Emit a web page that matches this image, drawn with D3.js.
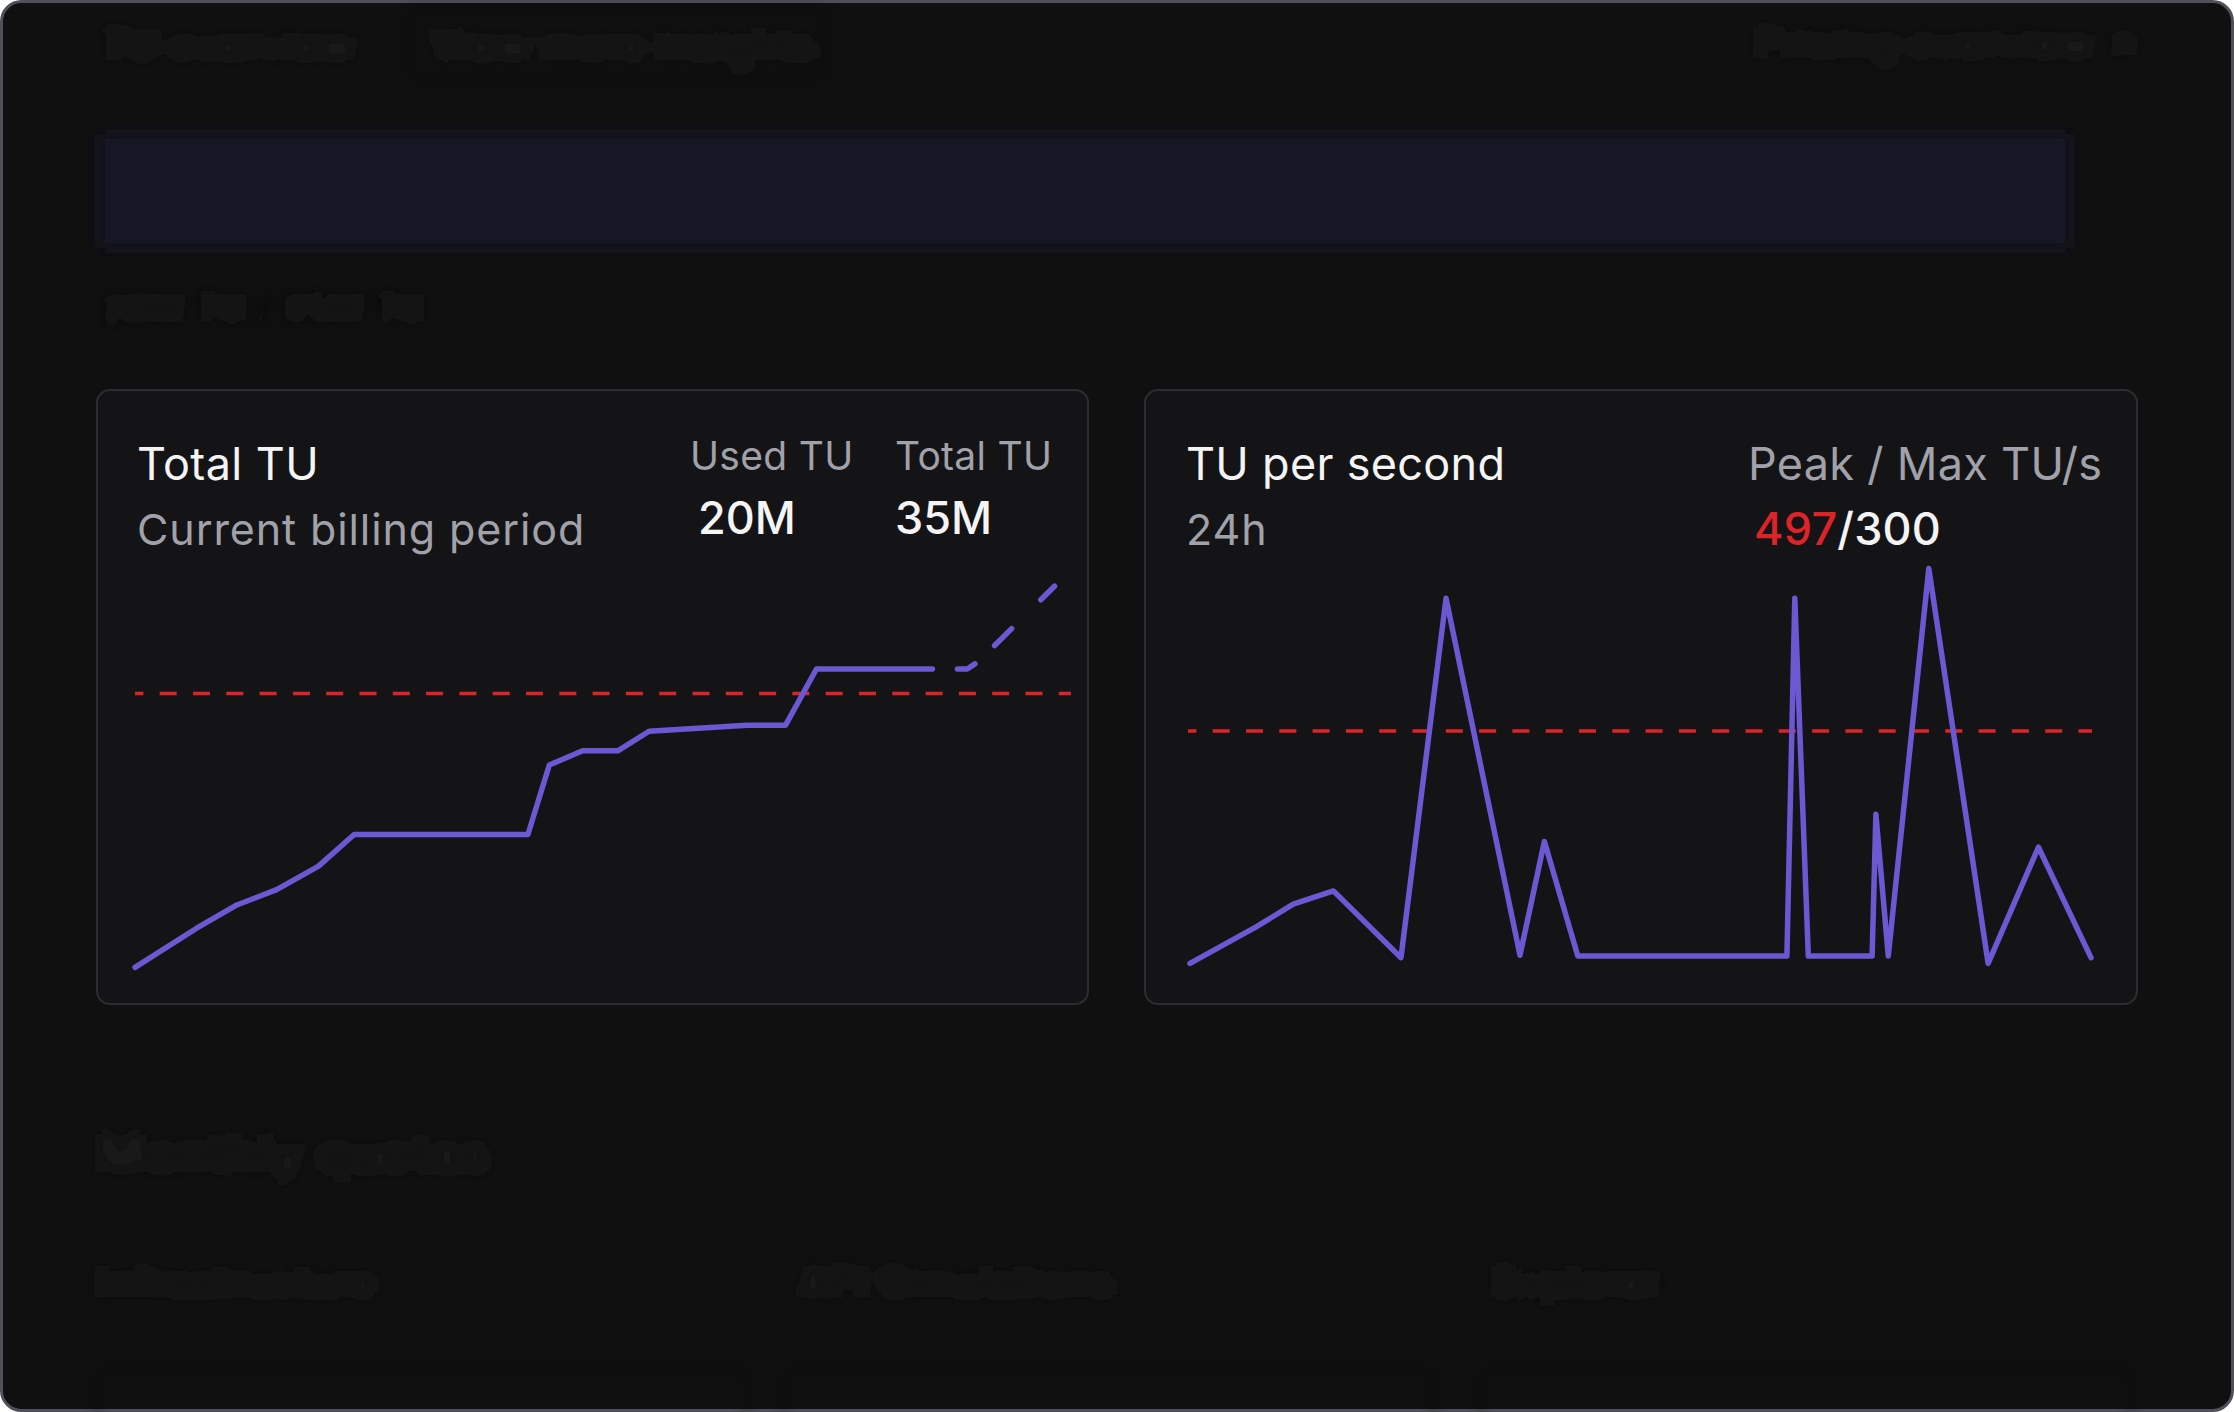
<!DOCTYPE html>
<html>
<head>
<meta charset="utf-8">
<script src="https://cdn.jsdelivr.net/npm/d3@7"></script>
<style>
  html, body { margin: 0; padding: 0; background: #fff; }
  svg { display: block; font-family: Inter, "Noto Sans", sans-serif; }
</style>
</head>
<body>
<svg id="chart" width="2234" height="1412"></svg>
<script>
// Total TU, cumulative usage in the billing period (day -> M TU)
const usageDays = [0, 2, 3.33, 4.63, 6, 7.16, 12.84, 13.54, 14.63, 15.79, 16.8, 20, 21.26, 22.27, 26.06];
const usageTU = [3.2, 7.0, 9.3, 10.8, 13.1, 16.2, 16.2, 23.0, 24.4, 24.4, 26.3, 26.9, 26.9, 32.4, 32.4];
const forecastDays = [26.06, 27.2, 27.55, 30.05];
const forecastTU = [32.4, 32.4, 33.1, 40.5];
const usageLimit = 30;

// TU per second over the last 24h
const hours = [0, 1.75, 2.75, 3.82, 5.62, 6.82, 8.79, 9.44, 10.33, 15.9, 16.11, 16.47, 18.17, 18.27, 18.6, 19.68, 21.26, 22.6, 24];
const tuPerSecond = [18, 62, 90, 106, 25, 461, 28, 166, 27, 27, 461, 27, 27, 199, 27, 497, 18, 159, 25];
const maxTUs = 300;
const peakTUs = d3.max(tuPerSecond);

const purple = "#6b58d3";
const red = "#dc2328";

const svg = d3.select("#chart");

const defs = svg.append("defs");
defs.append("filter")
  .attr("id", "blur")
  .attr("x", "-10%").attr("y", "-50%")
  .attr("width", "120%").attr("height", "200%")
  .append("feGaussianBlur")
  .attr("stdDeviation", 7);

// outer frame
svg.append("rect")
  .attr("x", 1.5).attr("y", 1.5)
  .attr("width", 2231).attr("height", 1409)
  .attr("rx", 20)
  .attr("fill", "#101010")
  .attr("stroke", "#50505a")
  .attr("stroke-width", 3);

// blurred page content behind the cards
const bg = svg.append("g").attr("filter", "url(#blur)");
bg.append("text").attr("x", 100).attr("y", 60).attr("font-size", 42).attr("font-weight", 600)
  .attr("fill", "#1c1c1c").text("TU overview");
bg.append("rect").attr("x", 408).attr("y", 8).attr("width", 418).attr("height", 70).attr("rx", 8)
  .attr("fill", "none").attr("stroke", "#171717").attr("stroke-width", 2);
bg.append("text").attr("x", 430).attr("y", 60).attr("font-size", 42).attr("font-weight", 600)
  .attr("fill", "#1b1b1b").text("View more insights");
bg.append("text").attr("x", 1755).attr("y", 58).attr("font-size", 42).attr("font-weight", 600)
  .attr("fill", "#1a1a1a").text("Pricing overview ↗");
bg.append("rect").attr("x", 100).attr("y", 134).attr("width", 1970).attr("height", 114)
  .attr("fill", "#181726");
bg.append("text").attr("x", 100).attr("y", 322).attr("font-size", 38).attr("font-weight", 600)
  .attr("fill", "#181818").text("20M TU / 35M TU");
bg.append("text").attr("x", 97).attr("y", 1172).attr("font-size", 52).attr("font-weight", 600)
  .attr("fill", "#1b1b1b").text("Monthly quotas");
[["Infrastructure", 97], ["API Simulations", 798], ["Explorer", 1493]].forEach(([t, x]) => {
  bg.append("text").attr("x", x).attr("y", 1297).attr("font-size", 42).attr("font-weight", 600)
    .attr("fill", "#1b1b1b").text(t);
});
[97, 784, 1481].forEach((x) => {
  bg.append("rect").attr("x", x).attr("y", 1368).attr("width", 650).attr("height", 120).attr("rx", 12)
    .attr("fill", "none").attr("stroke", "#161616").attr("stroke-width", 2);
});

// cards
const cards = [
  { x: 97, y: 390, w: 991, h: 614 },
  { x: 1145, y: 390, w: 992, h: 614 },
];
svg.selectAll("rect.card")
  .data(cards)
  .enter()
  .append("rect")
  .attr("class", "card")
  .attr("x", (d) => d.x)
  .attr("y", (d) => d.y)
  .attr("width", (d) => d.w)
  .attr("height", (d) => d.h)
  .attr("rx", 13)
  .attr("fill", "#141417")
  .attr("stroke", "#2d2d31")
  .attr("stroke-width", 2);

function label(x, y, text, size, color, weight, spacing) {
  return svg.append("text")
    .attr("x", x).attr("y", y)
    .attr("font-size", size)
    .attr("font-weight", weight || 400)
    .attr("letter-spacing", spacing || 0)
    .attr("fill", color)
    .text(text);
}

// left card texts
label(137, 480, "Total TU", 45, "#f4f4f5", 400, 0.4);
label(137, 545, "Current billing period", 43, "#a1a1aa", 400, 0.9);
label(690, 470, "Used TU", 39, "#a1a1aa", 400, 0.3);
label(895, 470, "Total TU", 39, "#a1a1aa", 400, 0.3);
label(698, 534, "20M", 45, "#f4f4f5", 500);
label(895, 534, "35M", 45, "#f4f4f5", 500);

// right card texts
label(1186, 480, "TU per second", 45, "#f4f4f5", 400, 0.3);
label(1186, 545, "24h", 43, "#a1a1aa", 400, 1);
label(1748, 480, "Peak / Max TU/s", 45, "#a1a1aa", 400, 0.3);
const peakText = label(1754, 545, "", 45, "#f4f4f5", 500, 0.2);
peakText.append("tspan").attr("fill", red).text(peakTUs);
peakText.append("tspan").text("/" + maxTUs);

// left chart
const xL = d3.scaleLinear().domain([0, 30]).range([135, 1053]);
const yL = d3.scaleLinear().domain([0, 40]).range([1000, 591.3]);

svg.append("line")
  .attr("x1", 135).attr("x2", 1071)
  .attr("y1", yL(usageLimit)).attr("y2", yL(usageLimit))
  .attr("stroke", red)
  .attr("stroke-width", 3.5)
  .attr("stroke-dasharray", "17 16.3")
  .attr("stroke-dashoffset", 8.6);

const lineL = d3.line()
  .x((d) => xL(d[0]))
  .y((d) => yL(d[1]));

svg.append("path")
  .datum(d3.zip(usageDays, usageTU))
  .attr("d", lineL)
  .attr("fill", "none")
  .attr("stroke", purple)
  .attr("stroke-width", 5.5)
  .attr("stroke-linecap", "round")
  .attr("stroke-linejoin", "round");

svg.append("path")
  .datum(d3.zip(forecastDays, forecastTU))
  .attr("d", lineL)
  .attr("fill", "none")
  .attr("stroke", purple)
  .attr("stroke-width", 5.5)
  .attr("stroke-linecap", "round")
  .attr("stroke-linejoin", "round")
  .attr("stroke-dasharray", "19 27 24 41 22 100")
  .attr("stroke-dashoffset", 208);

// right chart
const xR = d3.scaleLinear().domain([0, 24]).range([1190, 2091]);
const yR = d3.scaleLinear().domain([0, 500]).range([978.3, 566.1]);

svg.append("line")
  .attr("x1", 1188).attr("x2", 2092)
  .attr("y1", yR(maxTUs)).attr("y2", yR(maxTUs))
  .attr("stroke", red)
  .attr("stroke-width", 3.5)
  .attr("stroke-dasharray", "17 16.3")
  .attr("stroke-dashoffset", 8.6);

const lineR = d3.line()
  .x((d) => xR(d[0]))
  .y((d) => yR(d[1]));

svg.append("path")
  .datum(d3.zip(hours, tuPerSecond))
  .attr("d", lineR)
  .attr("fill", "none")
  .attr("stroke", purple)
  .attr("stroke-width", 5.5)
  .attr("stroke-linecap", "round")
  .attr("stroke-linejoin", "round");
</script>
</body>
</html>
